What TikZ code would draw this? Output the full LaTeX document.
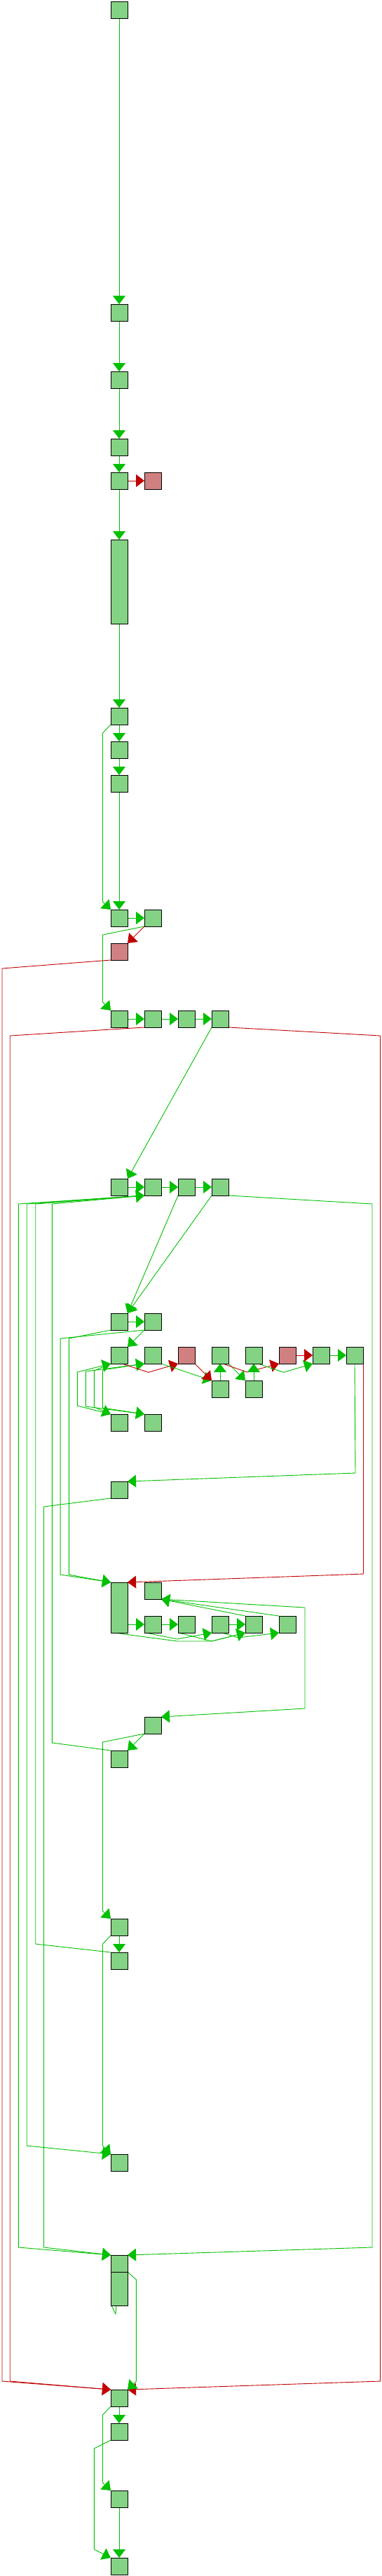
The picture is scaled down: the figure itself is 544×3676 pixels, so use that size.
\documentclass[tikz,border=0pt]{standalone}
\usetikzlibrary{arrows.meta,backgrounds}
\definecolor{nodegreen}{RGB}{132,210,132}
\definecolor{nodered}{RGB}{208,128,128}
\definecolor{edgegreen}{RGB}{0,192,0}
\definecolor{edgered}{RGB}{192,0,0}
\tikzset{
  box/.style={draw=black, line width=1pt, fill=nodegreen, minimum width=24pt, minimum height=24pt, inner sep=0pt, outer sep=0pt},
  rbox/.style={box, fill=nodered},
  ge/.style={draw=edgegreen, line width=0.9pt, -{Triangle[length=12pt,width=18pt]}},
  gl/.style={draw=edgegreen, line width=0.9pt},
  re/.style={draw=edgered, line width=0.9pt, -{Triangle[length=12pt,width=18pt]}}
}
\begin{document}
\begin{tikzpicture}[x=1pt,y=-1pt]
\useasboundingbox (0,0) rectangle (544,3676);
% nodes
\node[box] (n1) at (170,14) {};
\node[box] (n2) at (170,446) {};
\node[box] (n3) at (170,542) {};
\node[box] (n4) at (170,638) {};
\node[box] (n5) at (170,686) {};
\node[rbox] (n5r) at (218,686) {};
\node[box, minimum height=120pt] (n6) at (170,830) {};
\node[box] (n7) at (170,1022) {};
\node[box] (a1) at (170,1070) {};
\node[box] (b1) at (170,1118) {};
\node[box] (c1) at (170,1310) {};
\node[box] (d1) at (218,1310) {};
\node[rbox] (e1) at (170,1358) {};
\node[box] (f1) at (170,1454) {};
\node[box] (f2) at (218,1454) {};
\node[box] (f3) at (266,1454) {};
\node[box] (f4) at (314,1454) {};
\node[box] (g1) at (170,1694) {};
\node[box] (g2) at (218,1694) {};
\node[box] (g3) at (266,1694) {};
\node[box] (g4) at (314,1694) {};
\node[box] (h1) at (170,1886) {};
\node[box] (h2) at (218,1886) {};
\node[box] (i1) at (170,1934) {};
\node[box] (i2) at (218,1934) {};
\node[rbox] (i3) at (266,1934) {};
\node[box] (i4) at (314,1934) {};
\node[box] (i5) at (362,1934) {};
\node[rbox] (i6) at (410,1934) {};
\node[box] (i7) at (458,1934) {};
\node[box] (i8) at (506,1934) {};
\node[box] (j1) at (314,1982) {};
\node[box] (j2) at (362,1982) {};
\node[box] (k1) at (170,2030) {};
\node[box] (k2) at (218,2030) {};
\node[box] (l1) at (170,2126) {};
\node[box, minimum height=72pt] (m1) at (170,2294) {};
\node[box] (nb) at (218,2270) {};
\node[box] (o1) at (218,2318) {};
\node[box] (o2) at (266,2318) {};
\node[box] (o3) at (314,2318) {};
\node[box] (o4) at (362,2318) {};
\node[box] (o5) at (410,2318) {};
\node[box] (p1) at (218,2462) {};
\node[box] (q1) at (170,2510) {};
\node[box] (r1) at (170,2750) {};
\node[box] (s1) at (170,2798) {};
\node[box] (t1) at (170,3086) {};
\node[box] (u1) at (170,3230) {};
\node[box, minimum height=48pt] (u2) at (170,3266) {};
\node[box] (v1) at (170,3422) {};
\node[box] (w1) at (170,3470) {};
\node[box] (x1) at (170,3566) {};
\node[box] (y1) at (170,3662) {};
% edges
\begin{scope}[on background layer]
\draw[ge] (n1) -- (n2);
\draw[ge] (n2) -- (n3);
\draw[ge] (n3) -- (n4);
\draw[ge] (n4) -- (n5);
\draw[re] (n5) -- (n5r);
\draw[ge] (n5) -- (n6);
\draw[ge] (n6) -- (n7);
\draw[ge] (n7) -- (a1);
\draw[ge] (n7.south west) -- (146.5,1046) -- (146.5,1287) -- (c1.north west);
\draw[ge] (a1) -- (b1);
\draw[ge] (b1) -- (c1);
\draw[ge] (c1) -- (d1);
\draw[re] (d1.south west) -- (e1.north east);
\draw[ge] (d1.south west) -- (146.5,1334) -- (146.5,1430) -- (f1.north west);
\draw[re] (e1.south west) -- (3,1382) -- (3,3398) -- (v1.north west);
\draw[ge] (f1) -- (f2);
\draw[ge] (f2) -- (f3);
\draw[ge] (f3) -- (f4);
\draw[re] (f2.south west) -- (14.2,1478) -- (14.2,3398) -- (v1.north west);
\draw[re] (f4.south east) -- (542.5,1478) -- (542.5,3398) -- (v1.north east);
\draw[ge] (f4.south west) -- (g1.north east);
\draw[ge] (g1) -- (g2);
\draw[ge] (g2) -- (g3);
\draw[ge] (g3) -- (g4);
\draw[ge] (g3.south west) -- (h1.north east);
\draw[ge] (g4.south west) -- (h1.north east);
\draw[ge] (g4.south east) -- (531,1718) -- (531,3207) -- (u1.north east);
\draw[ge] (q1.north west) -- (74.3,2487) -- (74.3,1718) -- (g2.south west);
\draw[ge] (s1.north west) -- (50.7,2774) -- (50.7,1718) -- (g2.south west);
\draw[ge] (g2.south west) -- (38.2,1718) -- (38.2,3062) -- (t1.north west);
\draw[ge] (g2.south west) -- (26.4,1718) -- (26.4,3207) -- (u1.north west);
\draw[ge] (h1) -- (h2);
\draw[ge] (h2.south west) -- (i1.north east);
\draw[ge] (h1.south west) -- (98.3,1910) -- (98.3,2247) -- (m1.north west);
\draw[ge] (h2.south west) -- (86.1,1910) -- (86.1,2247) -- (m1.north west);
\draw[ge] (k1.north west) -- (110.3,2006) -- (110.3,1958) -- (i1.south west);
\draw[ge] (k2.north west) -- (122.3,2007) -- (122.3,1957) -- (i2.south west);
\draw[ge] (i1.south west) -- (134.3,1956) -- (134.3,2008) -- (k1.north west);
\draw[ge] (i2.south west) -- (146.3,1955) -- (146.3,2009) -- (k2.north west);
\draw[re] ([xshift=4pt]i1.south) -- (211.7,1958.3) -- (i3.south west);
\draw[ge] (i2.south east) -- (j1.north west);
\draw[re] (i3.south east) -- (j1.north west);
\draw[ge] (j1) -- (i4);
\draw[ge] (i4.south east) -- (j2.north west);
\draw[re] ([xshift=4pt]i4.south) -- (352.4,1958) -- (i6.south west);
\draw[ge] (j2) -- (i5);
\draw[ge] ([xshift=6pt]i5.south) -- (404.5,1958.3) -- (i7.south west);
\draw[re] (i6) -- (i7);
\draw[ge] (i7) -- (i8);
\draw[ge] (i8.south) -- (507,2102) -- (l1.north east);
\draw[re] (i8.south east) -- (518.5,1946) -- (518.5,2246) -- (m1.north east);
\draw[ge] (l1.south west) -- (62.5,2150) -- (62.5,3207) -- (u1.north west);
\draw[ge] (m1.east |- o1) -- (o1);
\draw[ge] (o1) -- (o2);
\draw[ge] (o3) -- (o4);
\draw[ge] ([xshift=-7pt]m1.south) -- (253,2342) -- (302,2342) -- (o4.south west);
\draw[ge] ([xshift=-10pt]o1.south) -- (253,2339) -- (o3.south west);
\draw[ge] ([xshift=-11pt]o2.south) -- (302,2342) -- (o4.south west);
\draw[ge] ([xshift=3pt]o3.south) -- (340,2337) -- (o5.south west);
\draw[ge] (o5.north west) -- (nb.south east);
\draw[ge] (o4.north west) -- (nb.south east);
\draw[ge] (nb.south east) -- (435,2294) -- (435,2438) -- (p1.north east);
\draw[ge] (p1.south west) -- (q1.north east);
\draw[ge] (p1.south west) -- (146.5,2486) -- (146.5,2727) -- (r1.north west);
\draw[ge] (r1) -- (s1);
\draw[ge] (r1.south west) -- (146.5,2774) -- (146.5,3062) -- (t1.north west);
\draw[ge] (u1.south east) -- (194.4,3253) -- (194.4,3398) -- (v1.north east);
\draw[gl] ([xshift=1pt]u2.south west) -- ++(6,12) -- ([xshift=-4pt]u2.south);
\draw[ge] (v1) -- (w1);
\draw[ge] (v1.south west) -- (146.5,3446) -- (146.5,3543) -- (x1.north west);
\draw[ge] (w1.south west) -- (134.4,3494) -- (134.4,3638) -- (y1.north west);
\draw[ge] (x1) -- (y1);
\end{scope}
\end{tikzpicture}
\end{document}
